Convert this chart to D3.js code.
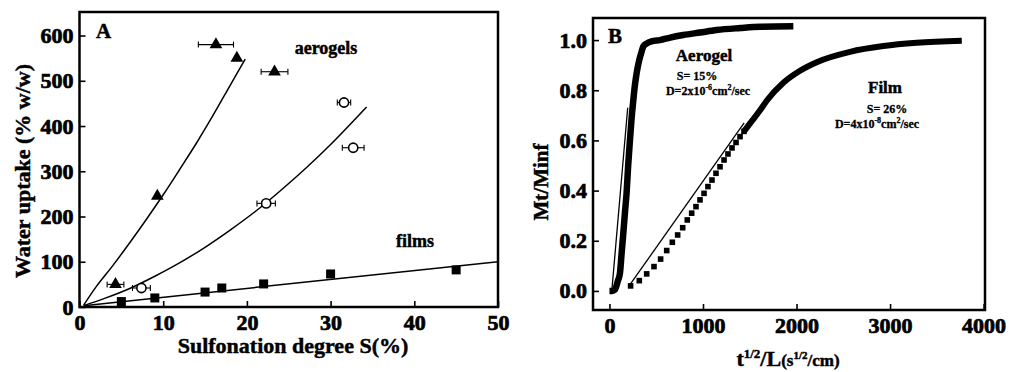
<!DOCTYPE html>
<html>
<head>
<meta charset="utf-8">
<script src="https://cdn.jsdelivr.net/npm/d3@7"></script>
<style>
body { margin: 0; background: #fff; }
text { font-family: "Liberation Serif", "Times New Roman", serif; font-weight: bold; fill: #000; stroke: #000; stroke-width: 0.45px; }
.tick text { stroke-width: 0.7px; }
</style>
</head>
<body>
<svg id="chart" width="1009" height="372"></svg>
<script>
// ---- panel A: water uptake vs sulfonation degree ----
const aeroS = [4.3, 9.3, 16.3, 18.8, 23.3];
const aeroW = [50, 245, 580, 550, 520];
const aeroErr = [1.0, 0, 2.1, 0, 1.6];

const openS = [7.4, 22.3, 31.6, 32.7];
const openW = [42, 229, 452, 352];
const openErr = [1.07, 1.1, 0.8, 1.3];

const filmS = [5, 9, 15, 17, 22, 30, 45];
const filmW = [12, 20, 33, 42, 51, 73, 82];

// fitted curves
const aeroFitS = [0.5, 2, 4, 6, 8, 10, 12, 14, 16, 18, 19.8];
const aeroFitW = [4, 45, 92, 142, 194, 248, 305, 363, 425, 490, 548];
const openFitS = [0.5, 3, 6, 9, 12, 15, 18, 21, 24, 27, 30, 34.3];
const openFitW = [3, 19, 41, 68, 98, 132, 170, 211, 257, 306, 359, 442];
const filmFitS = [0.5, 50];
const filmFitW = [3, 100];

const xTicksA = [0, 10, 20, 30, 40, 50];
const yTicksA = [0, 100, 200, 300, 400, 500, 600];

// ---- panel B: sorption kinetics ----
const aeroKinX = [0, 30, 58, 90, 112, 130, 148, 165, 183, 200, 219, 237, 255, 272, 290, 315, 343, 362, 396, 450, 540, 650, 789, 968, 1146, 1400, 1610, 1966];
const aeroKinY = [0, 0, 0.005, 0.04, 0.07, 0.15, 0.23, 0.31, 0.39, 0.5, 0.6, 0.69, 0.76, 0.82, 0.867, 0.915, 0.953, 0.975, 0.986, 0.995, 1.0, 1.01, 1.02, 1.03, 1.04, 1.048, 1.053, 1.055];
const aeroKinFitX = [25, 195];
const aeroKinFitY = [0, 0.73];

const filmPtX = [226, 319, 398, 476, 547, 612, 672, 729, 783, 832, 879, 925, 968, 1011, 1053, 1096, 1139, 1182, 1225, 1267, 1310, 1353, 1396, 1438];
const filmPtY = [0.02, 0.041, 0.068, 0.097, 0.127, 0.161, 0.194, 0.223, 0.252, 0.283, 0.31, 0.336, 0.363, 0.389, 0.416, 0.442, 0.469, 0.495, 0.522, 0.546, 0.57, 0.592, 0.615, 0.636];
const filmKinX = [1438, 1503, 1610, 1681, 1859, 2037, 2216, 2572, 2928, 3285, 3767];
const filmKinY = [0.636, 0.668, 0.72, 0.758, 0.83, 0.878, 0.912, 0.953, 0.976, 0.989, 0.997];
const filmKinFitX = [210, 1440];
const filmKinFitY = [0.02, 0.67];

const xTicksB = [0, 1000, 2000, 3000, 4000];
const yTicksB = [0, 0.2, 0.4, 0.6, 0.8, 1.0];

const svg = d3.select("#chart");

const zip = (a, b) => a.map((v, i) => [v, b[i]]);

const drawAxes = (g, x, y, xMajor, xMinor, yMajor, yMinor, xFmt, yFmt) => {
	const [x0, x1] = x.range();
	const [y0, y1] = y.range();

	const ax = g.append("g").attr("transform", `translate(0,${y0})`);
	ax.call(d3.axisBottom(x).tickValues(xMinor).tickSize(-3).tickFormat(""));
	ax.call(d3.axisBottom(x).tickValues(xMajor).tickSize(-6).tickPadding(7).tickFormat(xFmt));
	ax.selectAll(".domain").remove();

	const ay = g.append("g").attr("transform", `translate(${x0},0)`);
	ay.call(d3.axisLeft(y).tickValues(yMinor).tickSize(-3).tickFormat(""));
	ay.call(d3.axisLeft(y).tickValues(yMajor).tickSize(-6).tickPadding(6).tickFormat(yFmt));
	ay.selectAll(".domain").remove();

	g.selectAll(".tick line").attr("stroke", "#000").attr("stroke-width", 1.6);
	g.selectAll(".tick text")
		.attr("font-family", '"Liberation Serif", "Times New Roman", serif')
		.attr("font-weight", "bold")
		.attr("font-size", 22)
		.style("font-size", "22px")
		.attr("fill", "#000");

	g.append("rect")
		.attr("x", x0).attr("y", y1)
		.attr("width", x1 - x0).attr("height", y0 - y1)
		.attr("fill", "none").attr("stroke", "#000").attr("stroke-width", 2.5);
};

// ---------------- panel A ----------------
const xA = d3.scaleLinear([0, 50], [79.5, 498]);
const yA = d3.scaleLinear([0, 652], [307, 12]);
const gA = svg.append("g");

drawAxes(gA, xA, yA, xTicksA,
	d3.range(2, 50, 2).filter(v => v % 10 !== 0),
	yTicksA,
	d3.range(20, 652, 20).filter(v => v % 100 !== 0),
	d3.format("d"), d3.format("d"));

const lineA = d3.line(d => xA(d[0]), d => yA(d[1])).curve(d3.curveCatmullRom);
[[aeroFitS, aeroFitW], [openFitS, openFitW], [filmFitS, filmFitW]].forEach(([s, w]) => {
	gA.append("path")
		.datum(zip(s, w))
		.attr("d", lineA)
		.attr("fill", "none")
		.attr("stroke", "#000")
		.attr("stroke-width", 1.5);
});

const errBars = (s, w, e) => {
	const data = zip(s, w).map((d, i) => [...d, e[i]]).filter(d => d[2] > 0);
	const g = gA.append("g").attr("stroke", "#000").attr("stroke-width", 1.1);
	g.selectAll("line.h").data(data).join("line")
		.attr("x1", d => xA(d[0] - d[2])).attr("x2", d => xA(d[0] + d[2]))
		.attr("y1", d => yA(d[1])).attr("y2", d => yA(d[1]));
	g.selectAll("line.l").data(data).join("line")
		.attr("x1", d => xA(d[0] - d[2])).attr("x2", d => xA(d[0] - d[2]))
		.attr("y1", d => yA(d[1]) - 3).attr("y2", d => yA(d[1]) + 3);
	g.selectAll("line.r").data(data).join("line")
		.attr("x1", d => xA(d[0] + d[2])).attr("x2", d => xA(d[0] + d[2]))
		.attr("y1", d => yA(d[1]) - 3).attr("y2", d => yA(d[1]) + 3);
};
errBars(aeroS, aeroW, aeroErr);
errBars(openS, openW, openErr);

gA.append("g").selectAll("path")
	.data(zip(aeroS, aeroW))
	.join("path")
	.attr("transform", d => `translate(${xA(d[0])},${yA(d[1])})`)
	.attr("d", d3.symbol(d3.symbolTriangle, 70))
	.attr("fill", "#000");

gA.append("g").selectAll("circle")
	.data(zip(openS, openW))
	.join("circle")
	.attr("cx", d => xA(d[0])).attr("cy", d => yA(d[1]))
	.attr("r", 4.6)
	.attr("fill", "#fff").attr("stroke", "#000").attr("stroke-width", 1.6);

gA.append("g").selectAll("rect")
	.data(zip(filmS, filmW))
	.join("rect")
	.attr("x", d => xA(d[0]) - 4.5).attr("y", d => yA(d[1]) - 4.5)
	.attr("width", 9).attr("height", 9)
	.attr("fill", "#000");

gA.append("text").attr("x", 96).attr("y", 38).style("font-size", "21px").text("A");
gA.append("text").attr("x", 326).attr("y", 54).attr("text-anchor", "middle").style("font-size", "18px").text("aerogels");
gA.append("text").attr("x", 415).attr("y", 247).attr("text-anchor", "middle").style("font-size", "18px").text("films");

gA.append("text")
	.attr("x", 293).attr("y", 353)
	.attr("text-anchor", "middle")
	.style("font-size", "22px")
	.text("Sulfonation degree S(%)");
gA.append("text")
	.attr("transform", "translate(30,171) rotate(-90)")
	.attr("text-anchor", "middle")
	.style("font-size", "22px")
	.text("Water uptake (% w/w)");

// ---------------- panel B ----------------
const xB = d3.scaleLinear([-176, 4015], [593, 985]);
const yB = d3.scaleLinear([-0.076, 1.088], [310, 18]);
const gB = svg.append("g");

drawAxes(gB, xB, yB, xTicksB,
	d3.range(200, 4000, 200).filter(v => v % 1000 !== 0),
	yTicksB,
	d3.range(-0.04, 1.09, 0.04).filter(v => Math.abs(v * 5 - Math.round(v * 5)) > 0.01),
	d3.format("d"), d3.format(".1f"));

const lineB = d3.line(d => xB(d[0]), d => yB(d[1]));

gB.append("path")
	.datum(zip(aeroKinX, aeroKinY))
	.attr("d", lineB.curve(d3.curveMonotoneX))
	.attr("fill", "none").attr("stroke", "#000")
	.attr("stroke-width", 6.5).attr("stroke-linejoin", "round");

gB.append("path")
	.datum(zip(filmKinX, filmKinY))
	.attr("d", lineB.curve(d3.curveMonotoneX))
	.attr("fill", "none").attr("stroke", "#000")
	.attr("stroke-width", 6).attr("stroke-linejoin", "round");

gB.append("g").selectAll("rect")
	.data(zip(filmPtX, filmPtY))
	.join("rect")
	.attr("x", d => xB(d[0]) - 2.8).attr("y", d => yB(d[1]) - 2.8)
	.attr("width", 5.6).attr("height", 5.6)
	.attr("fill", "#000");

[[aeroKinFitX, aeroKinFitY], [filmKinFitX, filmKinFitY]].forEach(([xs, ys]) => {
	gB.append("path")
		.datum(zip(xs, ys))
		.attr("d", lineB.curve(d3.curveLinear))
		.attr("fill", "none").attr("stroke", "#000").attr("stroke-width", 1.3);
});

gB.append("text").attr("x", 608).attr("y", 43).style("font-size", "21px").text("B");

gB.append("text").attr("x", 704).attr("y", 61).attr("text-anchor", "middle").style("font-size", "17px").text("Aerogel");
gB.append("text").attr("x", 697).attr("y", 80).attr("text-anchor", "middle").style("font-size", "12px").style("stroke-width", "0.3px").text("S= 15%");
const dA = gB.append("text").attr("x", 708).attr("y", 95).attr("text-anchor", "middle").style("font-size", "12px").style("stroke-width", "0.3px");
dA.append("tspan").text("D=2x10");
dA.append("tspan").attr("dy", -5).style("font-size", "8px").text("-6");
dA.append("tspan").attr("dy", 5).text("cm");
dA.append("tspan").attr("dy", -5).style("font-size", "8px").text("2");
dA.append("tspan").attr("dy", 5).text("/sec");

gB.append("text").attr("x", 885).attr("y", 93).attr("text-anchor", "middle").style("font-size", "17px").text("Film");
gB.append("text").attr("x", 887).attr("y", 113).attr("text-anchor", "middle").style("font-size", "12px").style("stroke-width", "0.3px").text("S= 26%");
const dF = gB.append("text").attr("x", 877).attr("y", 128).attr("text-anchor", "middle").style("font-size", "12px").style("stroke-width", "0.3px");
dF.append("tspan").text("D=4x10");
dF.append("tspan").attr("dy", -5).style("font-size", "8px").text("-8");
dF.append("tspan").attr("dy", 5).text("cm");
dF.append("tspan").attr("dy", -5).style("font-size", "8px").text("2");
dF.append("tspan").attr("dy", 5).text("/sec");

gB.append("text")
	.attr("transform", "translate(548,182) rotate(-90)")
	.attr("text-anchor", "middle")
	.style("font-size", "21px")
	.text("Mt/Minf");

const tx = gB.append("text").attr("x", 788).attr("y", 366).attr("text-anchor", "middle").style("font-size", "22px");
tx.append("tspan").text("t");
tx.append("tspan").attr("dy", -8).style("font-size", "13px").text("1/2");
tx.append("tspan").attr("dy", 8).text("/L");
tx.append("tspan").style("font-size", "17px").text("(s");
tx.append("tspan").attr("dy", -7).style("font-size", "11px").text("1/2");
tx.append("tspan").attr("dy", 7).style("font-size", "17px").text("/cm)");
</script>
</body>
</html>
